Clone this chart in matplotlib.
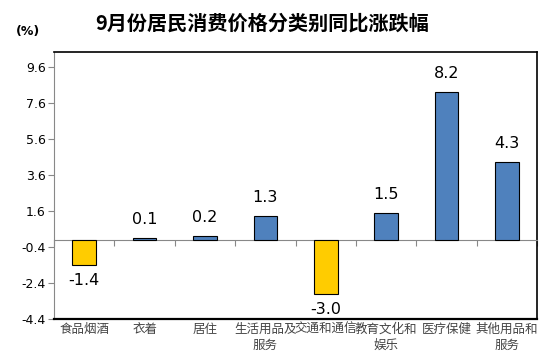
import matplotlib.pyplot as plt
import matplotlib.transforms as mtransforms
import numpy as np

plt.rcParams['font.family'] = ['DejaVu Sans', 'Noto Sans CJK SC']

categories = ["食品烟酒", "衣着", "居住", "生活用品及\n服务", "交通和通信",
              "教育文化和\n娱乐", "医疗保健", "其他用品和\n服务"]
values = [-1.4, 0.1, 0.2, 1.3, -3.0, 1.5, 8.2, 4.3]
yticks = [-4.4, -2.4, -0.4, 1.6, 3.6, 5.6, 7.6, 9.6]

blue = "#4F81BD"
yellow = "#FFCC00"
colors = [blue if v >= 0 else yellow for v in values]

fig = plt.figure(figsize=(5.54, 3.61), dpi=100)
ax = fig.add_axes([0.0975, 0.117, 0.872, 0.739])

x = np.arange(len(values))
ax.bar(x, values, width=0.39, color=colors, edgecolor="black", linewidth=0.8, zorder=3)

ax.set_xlim(-0.5, len(values) - 0.5)
ax.set_ylim(-4.4, 10.45)
ax.set_yticks(yticks)
ax.set_yticklabels([f"{t:.1f}" for t in yticks], fontsize=9)
ax.tick_params(axis='y', length=4, color="#888888", pad=2)

# zero line with boundary ticks
ax.spines['bottom'].set_position(('data', 0))
ax.spines['bottom'].set_color("#888888")
ax.set_xticks(np.arange(len(values) + 1) - 0.5)
ax.set_xticklabels([])
ax.tick_params(axis='x', length=4, color="#888888", direction='out')
ax.spines['left'].set_color("#888888")
ax.axhline(-4.4, color="black", linewidth=1.6, clip_on=False, zorder=4)
ax.spines['top'].set_linewidth(1.2)
ax.spines['right'].set_linewidth(1.2)

trans = mtransforms.blended_transform_factory(ax.transData, ax.transAxes)
for i, c in enumerate(categories):
    ax.text(i, -0.015, c, transform=trans, ha='center', va='top', fontsize=9,
            family=['Noto Sans CJK SC'], color="#444444", linespacing=1.35)

for i, v in enumerate(values):
    if v >= 0:
        ax.annotate(f"{v:.1f}", (i, v), xytext=(0, 8), textcoords='offset points',
                    ha='center', va='bottom', fontsize=11.5)
    else:
        ax.annotate(f"{v:.1f}", (i, v), xytext=(0, -6), textcoords='offset points',
                    ha='center', va='top', fontsize=11.5)

fig.text(0.473, 0.937, "9月份居民消费价格分类别同比涨跌幅", ha='center', va='center',
         fontsize=14.5, fontweight='bold', family=['Noto Sans CJK SC'])
fig.text(0.05, 0.912, "(%)", ha='center', va='center', fontsize=9, fontweight='bold')

fig.savefig("out.png", dpi=100)
